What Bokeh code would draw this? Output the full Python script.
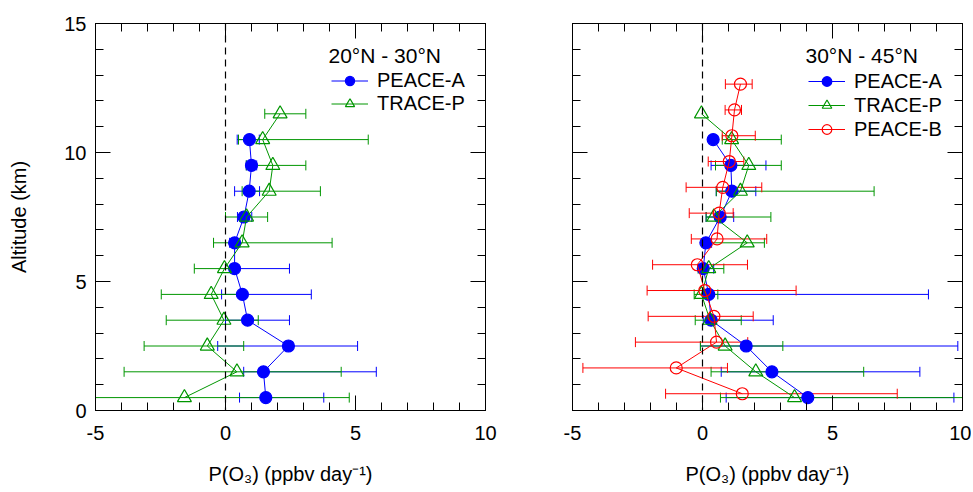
import math
from bokeh.plotting import figure
from bokeh.models import (ColumnDataSource, Whisker, TeeHead, Span, Legend, LegendItem,
                          LinearAxis, SingleIntervalTicker, Range1d, Label)
from bokeh.layouts import row
from bokeh.embed import file_html
from bokeh.resources import INLINE

nan = float("nan")

# ---------------- data ----------------
ALT_A = [0.5, 1.5, 2.5, 3.5, 4.5, 5.5, 6.5, 7.5, 8.5, 9.5, 10.5]
ALT_T = [0.5, 1.5, 2.5, 3.5, 4.5, 5.5, 6.5, 7.5, 8.5, 9.5, 10.5, 11.5]
ALT_B = [0.65, 1.65, 2.65, 3.65, 4.65, 5.65, 6.65, 7.65, 8.65, 9.65, 10.65, 11.65, 12.65]

# Left panel: 20N - 30N
L_PEACE_A = [1.55, 1.46, 2.42, 0.85, 0.65, 0.35, 0.35, 0.71, 0.91, 1.00, 0.92]
L_PEACE_A_LO = [0.54, 0.70, -0.30, 0.00, -0.15, 0.20, 0.16, 0.46, 0.35, 0.80, 0.45]
L_PEACE_A_HI = [3.78, 5.80, 5.08, 2.46, 3.30, 2.46, 0.55, 1.01, 1.31, 1.20, 1.30]
L_TRACE_P = [-1.58, 0.44, -0.70, -0.06, -0.55, -0.04, 0.64, 0.81, 1.68, 1.82, 1.43, 2.10]
L_TRACE_P_LO = [-5.40, -3.90, -3.13, -2.28, -2.47, -1.20, -0.46, 0.00, 0.64, 0.80, 0.50, 1.51]
L_TRACE_P_HI = [4.76, 4.45, 0.70, 1.26, 0.54, 0.42, 4.10, 1.62, 3.65, 3.09, 5.49, 3.09]

# Right panel: 30N - 45N
R_PEACE_A = [4.05, 2.67, 1.68, 0.33, 0.24, 0.03, 0.13, 0.68, 1.13, 1.09, 0.41]
R_PEACE_A_LO = [0.91, 0.72, -0.08, 0.03, 0.06, -0.10, 0.00, 0.14, 0.53, 0.33, nan]
R_PEACE_A_HI = [9.67, 8.36, 9.82, 2.72, 8.69, 0.43, 0.35, 1.20, 2.05, 2.44, nan]
R_TRACE_P = [3.54, 2.05, 0.87, 0.29, -0.04, 0.24, 1.72, 0.44, 1.46, 1.78, 1.12, -0.04]
R_TRACE_P_LO = [0.69, 0.33, -0.08, -0.28, -0.32, -0.17, 0.10, 0.14, 0.53, 0.50, 0.76, nan]
R_TRACE_P_HI = [10.13, 6.20, 3.09, 1.49, 0.59, 0.82, 2.38, 2.63, 6.60, 3.03, 3.03, nan]
R_PEACE_B = [1.53, -1.01, 0.54, 0.44, 0.09, -0.20, 0.56, 0.64, 0.78, 1.03, 1.13, 1.23, 1.46]
R_PEACE_B_LO = [-1.42, -4.60, -2.58, -2.09, -2.13, -1.92, -0.43, -0.51, -0.63, 0.22, 0.76, 0.87, 0.88]
R_PEACE_B_HI = [7.49, 0.96, 1.74, 1.95, 3.60, 1.73, 2.47, 1.18, 2.28, 1.59, 2.03, 1.50, 1.91]

X_LABEL = "P(O\u2083) (ppbv day\u207b\u00b9)"
Y_LABEL = "Altitude (km)"
TITLE_L = "20°N - 30°N"
TITLE_R = "30°N - 45°N"

FONT = "Liberation Sans"
BLUE = "#0000ff"
GREEN = "#009600"
RED = "#ff0000"

FIG_H = 492
FRAME_H = 387
TOP = 23


def style_axis(ax, show_labels):
    ax.ticker = SingleIntervalTicker(interval=5, num_minor_ticks=5)
    ax.axis_line_color = "black"
    ax.axis_line_width = 1
    ax.major_tick_in = 15
    ax.major_tick_out = 0
    ax.minor_tick_in = 8
    ax.minor_tick_out = 0
    ax.major_tick_line_color = "black"
    ax.minor_tick_line_color = "black"
    ax.major_label_text_font = FONT
    ax.major_label_text_color = "black"
    ax.major_label_overrides = {-5: "-5"}
    ax.axis_label_text_font = FONT
    ax.axis_label_text_font_style = "normal"
    ax.axis_label_text_font_size = "20px"
    ax.axis_label_text_color = "black"
    if show_labels:
        ax.major_label_text_font_size = "20px"
    else:
        ax.major_label_text_font_size = "0px"
        ax.major_label_text_color = None
        ax.major_label_standoff = 0


def add_series(p, alt, vals, lo, hi, color, marker, fill):
    src = ColumnDataSource(dict(y=alt, x=vals))
    ealt = [a for a, l in zip(alt, lo) if not math.isnan(l)]
    elo = [l for l in lo if not math.isnan(l)]
    ehi = [h for h in hi if not math.isnan(h)]
    esrc = ColumnDataSource(dict(y=ealt, lo=elo, hi=ehi))
    w = Whisker(source=esrc, base="y", lower="lo", upper="hi", dimension="width",
                line_color=color, line_width=1,
                upper_head=TeeHead(size=10, line_color=color, line_width=1),
                lower_head=TeeHead(size=10, line_color=color, line_width=1))
    p.add_layout(w)
    lr = p.line("x", "y", source=src, line_color=color, line_width=1)
    sr = p.scatter("x", "y", source=src, marker=marker,
                   size=14 if marker == "triangle" else 12,
                   line_color=color, line_width=1.2,
                   fill_color=color if fill else None)
    return [lr, sr]


def make_fig(width, bl, br, show_y, title, series):
    p = figure(width=width, height=FIG_H, output_backend="svg", toolbar_location=None,
               x_range=Range1d(-5, 10), y_range=Range1d(0, 15),
               min_border_left=bl, min_border_right=br,
               min_border_top=TOP, min_border_bottom=FIG_H - TOP - FRAME_H)
    p.xgrid.visible = False
    p.ygrid.visible = False
    p.outline_line_color = "black"
    p.background_fill_color = "white"
    p.border_fill_color = "white"

    style_axis(p.xaxis[0], True)
    p.xaxis[0].major_label_standoff = 15
    p.xaxis[0].axis_label = X_LABEL
    p.xaxis[0].axis_label_standoff = 20
    style_axis(p.yaxis[0], show_y)
    if show_y:
        p.yaxis[0].axis_label = Y_LABEL
        p.yaxis[0].major_label_standoff = 9
        p.yaxis[0].axis_label_standoff = 31

    top = LinearAxis()
    style_axis(top, False)
    p.add_layout(top, "above")
    right = LinearAxis()
    style_axis(right, False)
    p.add_layout(right, "right")

    p.add_layout(Span(location=0, dimension="height", line_color="black",
                      line_dash="7 5", line_width=1.2))

    items = []
    for label, args in series:
        rs = add_series(p, *args)
        items.append(LegendItem(label=label, renderers=rs))

    n = len(items)
    row_h = 24 if n == 3 else 23
    leg = Legend(items=items, location=(236, FRAME_H - 46 - row_h * n),
                 label_text_font=FONT, label_text_font_size="20px",
                 label_text_color="black",
                 label_height=row_h, glyph_height=row_h, glyph_width=37,
                 label_standoff=9, spacing=0, padding=0, margin=0,
                 border_line_color=None, background_fill_alpha=0)
    p.add_layout(leg)

    p.add_layout(Label(x=233, y=FRAME_H - 32, x_units="screen", y_units="screen",
                       text=title, text_font=FONT, text_font_size="21px",
                       text_color="black", text_baseline="middle", text_align="left"))
    return p


p1 = make_fig(528, 95, 43, True, TITLE_L, [
    ("PEACE-A", (ALT_A, L_PEACE_A, L_PEACE_A_LO, L_PEACE_A_HI, BLUE, "circle", True)),
    ("TRACE-P", (ALT_T, L_TRACE_P, L_TRACE_P_LO, L_TRACE_P_HI, GREEN, "triangle", False)),
])
p2 = make_fig(443, 44, 9, False, TITLE_R, [
    ("PEACE-A", (ALT_A, R_PEACE_A, R_PEACE_A_LO, R_PEACE_A_HI, BLUE, "circle", True)),
    ("TRACE-P", (ALT_T, R_TRACE_P, R_TRACE_P_LO, R_TRACE_P_HI, GREEN, "triangle", False)),
    ("PEACE-B", (ALT_B, R_PEACE_B, R_PEACE_B_LO, R_PEACE_B_HI, RED, "circle", False)),
])

layout = row(p1, p2)
open("out.html", "w").write(file_html(layout, INLINE))
